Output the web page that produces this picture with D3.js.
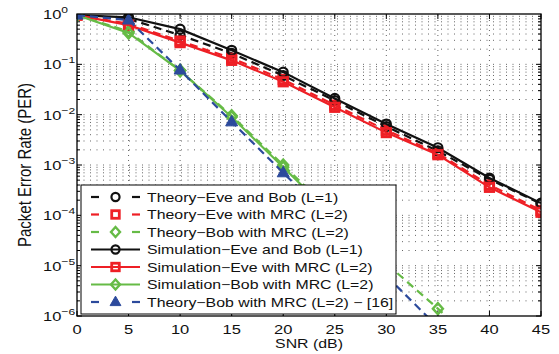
<!DOCTYPE html>
<html>
<head>
<meta charset="utf-8">
<script src="https://cdn.jsdelivr.net/npm/d3@7"></script>
<style>
  body { margin: 0; background: #fff; }
  svg { display: block; font-family: "Liberation Sans", Arial, sans-serif; }
</style>
</head>
<body>
<svg id="chart" width="559" height="354"></svg>
<script>
// values
const snr = [0, 5, 10, 15, 20, 25, 30, 35, 40, 45];
const theoryEveBob = [0.95, 0.8, 0.38, 0.165, 0.06, 0.019, 0.0058, 0.0019, 5.2e-4, 1.7e-4];
const theoryEveMrc = [0.95, 0.64, 0.29, 0.132, 0.05, 0.0155, 0.0049, 0.0017, 4.0e-4, 1.25e-4];
const theoryBobMrc = [0.95, 0.45, 0.075, 0.0095, 1.0e-3, 1.0e-4, 1.1e-5, 1.4e-6, 1.6e-7];
const simEveBob = [0.95, 0.86, 0.5, 0.19, 0.07, 0.021, 0.0065, 0.0022, 5.5e-4, 1.75e-4];
const simEveMrc = [0.95, 0.6, 0.27, 0.12, 0.045, 0.014, 0.0044, 0.0016, 3.6e-4, 1.15e-4];
const simBobMrc = [0.95, 0.42, 0.075, 0.009, 9e-4, 9e-5];
const theoryBobRef = [0.95, 0.76, 0.077, 0.0072, 7e-4, 6.8e-5, 6.3e-6, 6e-7];

const xTicks = [0, 5, 10, 15, 20, 25, 30, 35, 40, 45];
const yExponents = [0, -1, -2, -3, -4, -5, -6];

const series = [
  { name: "Theory\u2212Eve and Bob (L=1)", values: theoryEveBob, color: "#111", dash: "8,5", marker: "circle" },
  { name: "Theory\u2212Eve with MRC (L=2)", values: theoryEveMrc, color: "#ee1f25", dash: "8,5", marker: "square" },
  { name: "Theory\u2212Bob with MRC (L=2)", values: theoryBobMrc, color: "#66bb46", dash: "8,5", marker: "diamond" },
  { name: "Simulation\u2212Eve and Bob (L=1)", values: simEveBob, color: "#111", dash: null, marker: "circle" },
  { name: "Simulation\u2212Eve with MRC (L=2)", values: simEveMrc, color: "#ee1f25", dash: null, marker: "square" },
  { name: "Simulation\u2212Bob with MRC (L=2)", values: simBobMrc, color: "#66bb46", dash: null, marker: "diamond" },
  { name: "Theory\u2212Bob with MRC (L=2) \u2212 [16]", values: theoryBobRef, color: "#2c4a9c", dash: "8,5", marker: "triangle" }
];

const svg = d3.select("#chart");
const margin = { top: 14, right: 18, bottom: 38, left: 77 };
const width = 559, height = 354;
const sx = 1.27; // the picture is stretched sideways

const x = d3.scaleLinear().domain([0, 45]).range([margin.left, width - margin.right]);
const y = d3.scaleLog().domain([1e-6, 1]).range([height - margin.bottom, margin.top]);

const x0 = x(0), x1 = x(45), y0 = y(1e-6), y1 = y(1);

// grid
const grid = svg.append("g")
  .attr("stroke", "#555")
  .attr("stroke-width", 0.9);
xTicks.slice(1, -1).forEach(t => {
  grid.append("line").attr("x1", x(t)).attr("x2", x(t)).attr("y1", y0).attr("y2", y1)
    .attr("stroke-dasharray", "1,4");
});
const minorVals = [];
for (let e = -6; e < 0; e++) {
  for (let m = 1; m < 10; m++) minorVals.push(m * Math.pow(10, e));
}
minorVals.forEach(v => {
  if (v <= 1e-6) return;
  grid.append("line").attr("x1", x0).attr("x2", x1).attr("y1", y(v)).attr("y2", y(v))
    .attr("stroke-dasharray", "1,5.5");
});

// ticks, inside on all sides
const ticks = svg.append("g").attr("stroke", "#000").attr("stroke-width", 1);
xTicks.forEach(t => {
  ticks.append("line").attr("x1", x(t)).attr("x2", x(t)).attr("y1", y0).attr("y2", y0 - 5);
  ticks.append("line").attr("x1", x(t)).attr("x2", x(t)).attr("y1", y1).attr("y2", y1 + 5);
});
minorVals.forEach(v => {
  const len = Math.abs(Math.log10(v) - Math.round(Math.log10(v))) < 1e-9 ? 5 : 3;
  ticks.append("line").attr("x1", x0).attr("x2", x0 + len).attr("y1", y(v)).attr("y2", y(v));
  ticks.append("line").attr("x1", x1).attr("x2", x1 - len).attr("y1", y(v)).attr("y2", y(v));
});

// series
const plot = svg.append("g");
svg.append("clipPath").attr("id", "clip")
  .append("rect").attr("x", x0).attr("y", y1).attr("width", x1 - x0).attr("height", y0 - y1);
plot.attr("clip-path", "url(#clip)");

function drawMarker(g, kind, cx, cy, color, k) {
  k = k || 1;
  if (kind === "circle") {
    g.append("circle").attr("cx", cx).attr("cy", cy).attr("r", 4.5 * k)
      .attr("fill", "none").attr("stroke", color).attr("stroke-width", 2.2);
  } else if (kind === "square") {
    const h = 4.2 * k;
    g.append("rect").attr("x", cx - h).attr("y", cy - h).attr("width", 2 * h).attr("height", 2 * h)
      .attr("fill", "none").attr("stroke", color).attr("stroke-width", 2.8);
  } else if (kind === "diamond") {
    g.append("path").attr("d", `M${cx},${cy - 5.5 * k}L${cx + 5 * k},${cy}L${cx},${cy + 5.5 * k}L${cx - 5 * k},${cy}Z`)
      .attr("fill", "none").attr("stroke", color).attr("stroke-width", 2.4);
  } else {
    g.append("path").attr("d", `M${cx},${cy - 6.5 * k}L${cx + 6 * k},${cy + 4 * k}L${cx - 6 * k},${cy + 4 * k}Z`)
      .attr("fill", color).attr("stroke", color).attr("stroke-width", 1);
  }
}

const line = d3.line().x(d => x(d[0])).y(d => y(d[1]));
series.forEach(s => {
  const pts = s.values.map((v, i) => [snr[i], v]);
  plot.append("path").datum(pts)
    .attr("d", line)
    .attr("fill", "none")
    .attr("stroke", s.color)
    .attr("stroke-width", 2.2)
    .attr("stroke-dasharray", s.dash);
  pts.forEach(p => {
    if (p[1] >= 1e-6) drawMarker(plot, s.marker, x(p[0]), y(p[1]), s.color);
  });
});

// frame
svg.append("rect").attr("x", x0).attr("y", y1).attr("width", x1 - x0).attr("height", y0 - y1)
  .attr("fill", "none").attr("stroke", "#000").attr("stroke-width", 1.3);

// stretched text helper
function label(g, tx, ty, str, size, anchor) {
  return g.append("text")
    .attr("transform", `translate(${tx},${ty}) scale(${sx},1)`)
    .attr("font-size", size)
    .attr("text-anchor", anchor || "start")
    .attr("fill", "#111")
    .text(str);
}

// x tick labels
xTicks.forEach(t => label(svg, x(t), 334, String(t), 13, "middle"));

// y tick labels
yExponents.forEach(e => {
  const t = svg.append("text")
    .attr("transform", `translate(43,${y(Math.pow(10, e)) + 5}) scale(${sx},1)`)
    .attr("font-size", 13)
    .attr("fill", "#111");
  t.append("tspan").text("10");
  t.append("tspan").attr("dy", -6).attr("font-size", 9.5)
    .text(e === 0 ? "0" : "\u2212" + Math.abs(e));
});

// axis titles
label(svg, (x0 + x1) / 2, 348, "SNR (dB)", 12.5, "middle");
svg.append("text")
  .attr("transform", `translate(31,${(y0 + y1) / 2}) scale(${sx},1) rotate(-90)`)
  .attr("font-size", 15)
  .attr("text-anchor", "middle")
  .attr("fill", "#111")
  .text("Packet Error Rate (PER)");

// legend
const legend = svg.append("g");
legend.append("rect").attr("x", 81).attr("y", 185).attr("width", 315).attr("height", 129)
  .attr("fill", "#fff").attr("stroke", "#000").attr("stroke-width", 1);
series.forEach((s, i) => {
  const ly = 197 + i * 17.5;
  const segs = s.dash ? [[91, 99], [132, 140]] : [[91, 140]];
  segs.forEach(sg => {
    legend.append("line").attr("x1", sg[0]).attr("x2", sg[1]).attr("y1", ly).attr("y2", ly)
      .attr("stroke", s.color).attr("stroke-width", 2.2);
  });
  drawMarker(legend, s.marker, 115.5, ly, s.color, 0.9);
  label(legend, 147, ly + 4.5, s.name, 12.5, "start");
});
</script>
</body>
</html>
